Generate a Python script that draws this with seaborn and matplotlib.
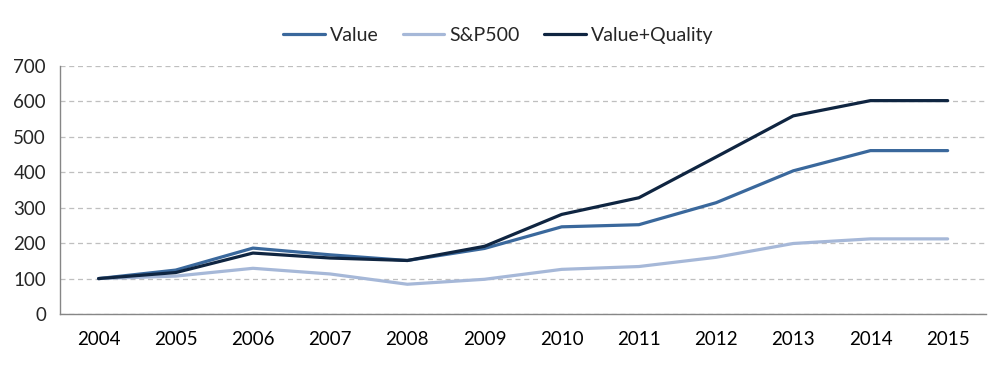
import numpy as np
import pandas as pd
import matplotlib
matplotlib.use("Agg")
import matplotlib.pyplot as plt
import seaborn as sns

years = ['2004', '2005', '2006', '2007', '2008', '2009', '2010', '2011', '2012', '2013', '2014', '2015']
value = [100, 124, 186, 167, 151, 185, 246, 252, 314, 404, 461, 461]
sp500 = [100, 107, 129, 113, 84, 98, 126, 134, 160, 199, 212, 212]
value_quality = [100, 117, 172, 158, 151, 191, 281, 328, 443, 559, 602, 602]

series = ['Value', 'S&P500', 'Value+Quality']
colors = ['#3A689C', '#A6B8D8', '#0F2541']

df = pd.DataFrame({'year': years * 3,
                   'val': value + sp500 + value_quality,
                   'series': np.repeat(series, len(years))})
df['pos'] = np.tile(np.arange(len(years)), 3)

sns.set_style('white')
plt.rcParams['font.family'] = ['Lato', 'DejaVu Sans']

fig = plt.figure(figsize=(9.96, 3.66), dpi=100)
ax = fig.add_axes([0.0602, 0.142, 0.930, 0.678])

sns.lineplot(data=df, x='pos', y='val', hue='series', palette=colors,
             hue_order=series, linewidth=2.3, ax=ax, legend=False,
             solid_capstyle='round')

ax.set_xlim(-0.5, len(years) - 0.5)
ax.set_ylim(0, 700)
ax.set_yticks(range(0, 701, 100))
ax.set_xticks(np.arange(len(years)))
ax.set_xticklabels(years)
ax.set_xticks(np.arange(-0.5, len(years)), minor=True)
ax.tick_params(axis='x', which='major', length=0, pad=12, labelsize=13.5, colors='black')
ax.tick_params(axis='x', which='minor', length=6, width=1, color='#868686', direction='out')
ax.tick_params(axis='y', length=7, width=1, color='#868686', direction='out', labelsize=13.5, pad=3)
ax.set_xlabel('')
ax.set_ylabel('')

ax.yaxis.grid(True, color='#BFBFBF', linestyle=(0, (4, 3)), linewidth=0.9)
ax.set_axisbelow(True)
for s in ['top', 'right']:
    ax.spines[s].set_visible(False)
for s in ['left', 'bottom']:
    ax.spines[s].set_color('#868686')
    ax.spines[s].set_linewidth(1)

handles = [plt.Line2D([], [], color=c, linewidth=2.3, solid_capstyle='round') for c in colors]
fig.legend(handles, series, loc='upper center', bbox_to_anchor=(0.5, 0.975), ncol=3,
           frameon=False, fontsize=14, handlelength=2.15, handletextpad=0.25,
           columnspacing=1.25)

fig.savefig('out.png', dpi=100)
